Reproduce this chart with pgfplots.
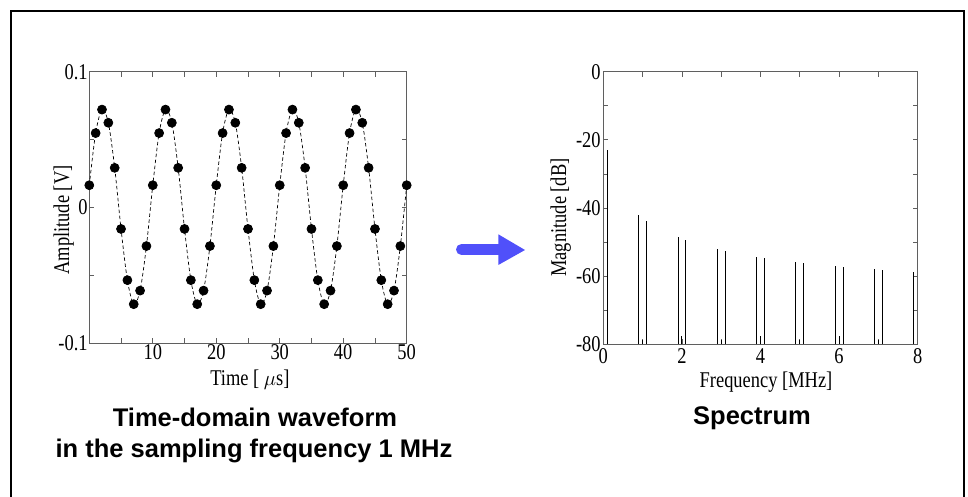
\documentclass[border=0pt]{standalone}
\usepackage{pgfplots}
\pgfplotsset{compat=1.18}
\usepackage{fontspec}
\setmainfont{Liberation Serif}[FakeStretch=0.82]
\newfontfamily\capfont{Liberation Sans}
\definecolor{arrowblue}{RGB}{80,80,250}
\definecolor{axgray}{RGB}{95,95,95}
\pgfplotsset{
  mystyle/.style={
    scale only axis,
    axis line style={draw=axgray, line width=0.9pt},
    tick align=inside,
    tick style={draw=axgray, line width=0.8pt},
    major tick length=5pt,
    ticklabel style={font=\fontsize{22.5}{25}\selectfont, inner sep=1.5pt},
    label style={font=\fontsize{22.5}{25}\selectfont},
  }
}
\begin{document}
\begin{tikzpicture}
\useasboundingbox (0pt,0pt) rectangle (968pt,497pt);
\draw[line width=2.2pt] (11pt,0pt) -- (11pt,486pt) -- (964pt,486pt) -- (964pt,0pt);

\begin{axis}[mystyle, at={(89.3pt,153.7pt)}, anchor=south west,
  width=317.4pt, height=271.6pt,
  xmin=0, xmax=50, ymin=-0.1, ymax=0.1,
  xtick={0,5,10,15,20,25,30,35,40,45,50},
  xticklabels={,,10,,20,,30,,40,,50},
  ytick={-0.1,-0.05,0,0.05,0.1},
  yticklabels={-0.1,,0,,0.1},
  xlabel={Time [ $\mu$s]}, ylabel={Amplitude [V]},
  xlabel style={at={(axis description cs:0.506,-0.135)}, anchor=center},
  ylabel style={at={(axis description cs:-0.081,0.454)}, anchor=center},
  clip=false]
\addplot[black, dash pattern=on 3.5pt off 2.5pt, line width=0.7pt, smooth,
  mark=*, mark size=4.5pt, mark options={solid, fill=black}] coordinates {
(0,0.0164) (1,0.0548) (2,0.0721) (3,0.0624) (4,0.0292) (5,-0.0158) (6,-0.0535) (7,-0.0712) (8,-0.0612) (9,-0.0284)
(10,0.0164) (11,0.0548) (12,0.0721) (13,0.0624) (14,0.0292) (15,-0.0158) (16,-0.0535) (17,-0.0712) (18,-0.0612) (19,-0.0284)
(20,0.0164) (21,0.0548) (22,0.0721) (23,0.0624) (24,0.0292) (25,-0.0158) (26,-0.0535) (27,-0.0712) (28,-0.0612) (29,-0.0284)
(30,0.0164) (31,0.0548) (32,0.0721) (33,0.0624) (34,0.0292) (35,-0.0158) (36,-0.0535) (37,-0.0712) (38,-0.0612) (39,-0.0284)
(40,0.0164) (41,0.0548) (42,0.0721) (43,0.0624) (44,0.0292) (45,-0.0158) (46,-0.0535) (47,-0.0712) (48,-0.0612) (49,-0.0284)
(50,0.0164)};
\end{axis}

\begin{axis}[mystyle, at={(603.3pt,152.7pt)}, anchor=south west,
  width=314.4pt, height=272.6pt,
  xmin=0, xmax=8, ymin=-80, ymax=0,
  xtick={0,1,2,3,4,5,6,7,8},
  xticklabels={0,,2,,4,,6,,8},
  ytick={-80,-70,-60,-50,-40,-30,-20,-10,0},
  yticklabels={-80,,-60,,-40,,-20,,0},
  yticklabel style={inner sep=1.5pt, xshift=-1pt},
  xticklabel style={yshift=-3pt},
  xlabel={Frequency [MHz]}, ylabel={Magnitude [dB]},
  xlabel style={at={(axis description cs:0.5175,-0.14)}, anchor=center},
  ylabel style={at={(axis description cs:-0.135,0.465)}, anchor=center},
  unbounded coords=jump]
\addplot[black, line width=0.9pt, mark=none] coordinates {
(0.1,-80) (0.1,-23) (0.1,nan)
(0.9,-80) (0.9,-42) (0.9,nan)
(1.0,-80) (1.0,-78.7) (1.0,nan)
(1.1,-80) (1.1,-43.7) (1.1,nan)
(1.9,-80) (1.9,-48.6) (1.9,nan)
(2.0,-80) (2.0,-77.5) (2.0,nan)
(2.1,-80) (2.1,-49.4) (2.1,nan)
(2.9,-80) (2.9,-52.0) (2.9,nan)
(3.0,-80) (3.0,-78.7) (3.0,nan)
(3.1,-80) (3.1,-52.5) (3.1,nan)
(3.9,-80) (3.9,-54.3) (3.9,nan)
(4.0,-80) (4.0,-77.5) (4.0,nan)
(4.1,-80) (4.1,-54.7) (4.1,nan)
(4.9,-80) (4.9,-55.9) (4.9,nan)
(5.0,-80) (5.0,-78.7) (5.0,nan)
(5.1,-80) (5.1,-56.2) (5.1,nan)
(5.9,-80) (5.9,-57.0) (5.9,nan)
(6.0,-80) (6.0,-77.5) (6.0,nan)
(6.1,-80) (6.1,-57.3) (6.1,nan)
(6.9,-80) (6.9,-58.0) (6.9,nan)
(7.0,-80) (7.0,-78.7) (7.0,nan)
(7.1,-80) (7.1,-58.1) (7.1,nan)
(7.9,-80) (7.9,-58.7)};
\end{axis}

\draw[arrowblue, line width=11pt, line cap=round] (461.5pt,247.5pt) -- (500pt,247.5pt);
\fill[arrowblue] (498.3pt,262.7pt) -- (525pt,247pt) -- (498.3pt,232pt) -- cycle;

\node[font={\capfont\bfseries\fontsize{25.5}{30}\selectfont}, anchor=base] at (255pt,70.3pt) {Time-domain waveform};
\node[font={\capfont\bfseries\fontsize{25.5}{30}\selectfont}, anchor=base] at (254pt,39pt) {in the sampling frequency 1 MHz};
\node[font={\capfont\bfseries\fontsize{25.5}{30}\selectfont}, anchor=base] at (752pt,72pt) {Spectrum};
\end{tikzpicture}
\end{document}
